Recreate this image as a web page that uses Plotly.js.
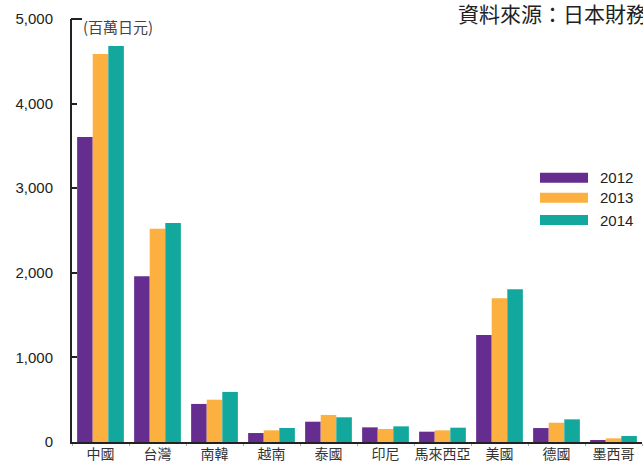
<!DOCTYPE html>
<html>
<head>
<meta charset="utf-8">
<script src="https://cdn.plot.ly/plotly-3.0.1.min.js"></script>
<style>
  html, body { margin: 0; padding: 0; background: #ffffff; }
  #chart { width: 643px; height: 462px; }
</style>
</head>
<body>
<div id="chart"></div>
<script>
const categories = ['中國', '台灣', '南韓', '越南', '泰國', '印尼', '馬來西亞', '美國', '德國', '墨西哥'];
const seriesNames = ['2012', '2013', '2014'];
const v2012 = [3605, 1960, 450, 106, 240, 173, 122, 1265, 165, 24];
const v2013 = [4585, 2520, 500, 138, 320, 154, 138, 1700, 228, 43];
const v2014 = [4680, 2590, 592, 166, 292, 185, 169, 1806, 268, 71];
const yTicks = [0, 1000, 2000, 3000, 4000, 5000];
const unitLabel = '(百萬日元)';
const sourceLabel = '資料來源：日本財務省';

const colors = ['#662d91', '#fbb040', '#13a89e'];
const seriesValues = [v2012, v2013, v2014];

const W = 643, H = 462;
const M = {l: 72, r: 1, t: 19, b: 20};
const plotW = W - M.l - M.r, plotH = H - M.t - M.b;
const px = x => (x - M.l) / plotW;
const py = y => (H - M.b - y) / plotH;

const cjk = '"Noto Sans CJK TC", "Noto Sans CJK SC", sans-serif';
const latin = '"Liberation Sans", Arial, sans-serif';

const traces = seriesValues.map((vals, i) => ({
  type: 'bar',
  name: seriesNames[i],
  x: categories,
  y: vals,
  marker: {color: colors[i], line: {width: 0}},
  hoverinfo: 'x+y+name'
}));

const shapes = [];
const annotations = [];

// legend built from the series names/colours
const legendTops = [172.7, 192.7, 215];
seriesNames.forEach((name, i) => {
  shapes.push({
    type: 'rect', xref: 'paper', yref: 'paper',
    x0: px(540), x1: px(588),
    y0: py(legendTops[i] + 10), y1: py(legendTops[i]),
    fillcolor: colors[i], line: {width: 0}
  });
  annotations.push({
    xref: 'paper', yref: 'paper',
    x: px(598), y: py(legendTops[i] + 5),
    xanchor: 'left', yanchor: 'middle',
    text: name, showarrow: false,
    font: {family: latin, size: 15, color: '#222'}
  });
});

// small hook at the top of the y axis
shapes.push({
  type: 'line', xref: 'paper', yref: 'paper',
  x0: px(71), x1: px(82), y0: py(19), y1: py(19),
  line: {color: '#222', width: 2}
});

annotations.push({
  xref: 'paper', yref: 'paper',
  x: px(81), y: py(26),
  xanchor: 'left', yanchor: 'middle',
  text: unitLabel, showarrow: false,
  font: {family: cjk, size: 15, color: '#444'}
});

annotations.push({
  xref: 'paper', yref: 'paper',
  x: px(456), y: py(13),
  xanchor: 'left', yanchor: 'middle',
  text: sourceLabel, showarrow: false,
  font: {family: cjk, size: 21, color: '#222'}
});

const layout = {
  width: W, height: H,
  margin: M,
  paper_bgcolor: '#ffffff',
  plot_bgcolor: '#ffffff',
  showlegend: false,
  barmode: 'group',
  bargap: 0.18,
  bargroupgap: 0,
  separators: '.,',
  xaxis: {
    type: 'category',
    showgrid: false,
    zeroline: false,
    showline: true,
    linecolor: '#222',
    linewidth: 2,
    ticks: 'outside',
    tickson: 'boundaries',
    ticklen: 2,
    tickcolor: '#aaa',
    tickangle: 0,
    ticklabelstandoff: -2,
    automargin: false,
    tickfont: {family: cjk, size: 14, color: '#333'},
    fixedrange: true
  },
  yaxis: {
    range: [0, 5000],
    tickvals: yTicks,
    tickformat: ',d',
    showgrid: false,
    zeroline: false,
    showline: true,
    linecolor: '#222',
    linewidth: 2,
    ticks: 'inside',
    ticklen: 5,
    tickwidth: 2,
    tickcolor: '#222',
    ticklabelstandoff: 14,
    automargin: false,
    tickfont: {family: latin, size: 15, color: '#222'},
    fixedrange: true
  },
  shapes: shapes,
  annotations: annotations
};

Plotly.newPlot('chart', traces, layout, {displayModeBar: false, staticPlot: true});
</script>
</body>
</html>
